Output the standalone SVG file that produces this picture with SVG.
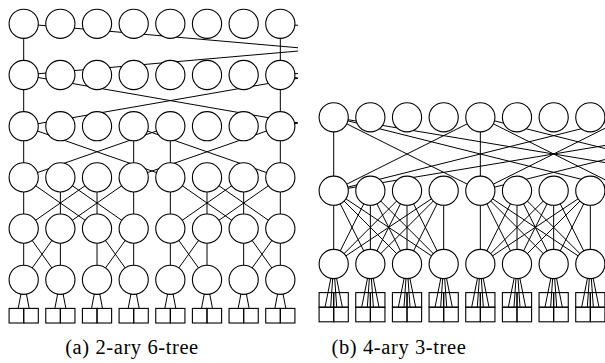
<svg xmlns="http://www.w3.org/2000/svg" width="605" height="363" viewBox="0 0 605 363">
  <style>
    .sw { fill: #fff; stroke: #000; stroke-width: 1.1; }
    .pe { fill: none; stroke: #000; stroke-width: 1.1; }
    .wire { fill: none; stroke: #000; stroke-width: 1; }
    .cap { font-family: "Liberation Serif", "Times New Roman", serif; font-size: 20.5px; letter-spacing: 0.6px; fill: #000; text-anchor: middle; }
  </style>
  <defs>
    <clipPath id="clipA"><rect x="0" y="0" width="298" height="363"/></clipPath>
    <clipPath id="clipB"><rect x="305" y="0" width="300" height="363"/></clipPath>
  </defs>

  <!-- links: drawn first, switches cover them -->
  <g id="connectors">
    <g id="a-links" clip-path="url(#clipA)" class="wire">
      <!-- level 1 - level 2 -->
      <path d="M23.7 23.8V75 M280.32 23.8V75 M23.7 23.8L610.26 75 M23.7 75L610.26 23.8 M280.32 23.8L866.88 75 M280.32 75L866.88 23.8"/>
      <!-- level 2 - level 3 -->
      <path d="M23.7 75V126.2 M280.32 75V126.2 M23.7 75L316.98 126.2 M23.7 126.2L316.98 75 M280.32 75L573.6 126.2 M280.32 126.2L573.6 75"/>
      <!-- level 3 - level 4 -->
      <path d="M23.7 126.2V177.4 M133.68 126.2V177.4 M170.34 126.2V177.4 M280.32 126.2V177.4 M23.7 126.2L170.34 177.4 M170.34 126.2L23.7 177.4 M133.68 126.2L280.32 177.4 M280.32 126.2L133.68 177.4"/>
      <!-- level 4 - level 5 -->
      <path d="M23.7 177.4V228.6 M60.36 177.4V228.6 M97.02 177.4V228.6 M133.68 177.4V228.6 M170.34 177.4V228.6 M207 177.4V228.6 M243.66 177.4V228.6 M280.32 177.4V228.6
               M23.7 177.4L97.02 228.6 M97.02 177.4L23.7 228.6 M60.36 177.4L133.68 228.6 M133.68 177.4L60.36 228.6
               M170.34 177.4L243.66 228.6 M243.66 177.4L170.34 228.6 M207 177.4L280.32 228.6 M280.32 177.4L207 228.6"/>
      <!-- level 5 - level 6 -->
      <path d="M23.7 228.6V279.8 M60.36 228.6V279.8 M97.02 228.6V279.8 M133.68 228.6V279.8 M170.34 228.6V279.8 M207 228.6V279.8 M243.66 228.6V279.8 M280.32 228.6V279.8
               M23.7 228.6L60.36 279.8 M60.36 228.6L23.7 279.8 M97.02 228.6L133.68 279.8 M133.68 228.6L97.02 279.8
               M170.34 228.6L207 279.8 M207 228.6L170.34 279.8 M243.66 228.6L280.32 279.8 M280.32 228.6L243.66 279.8"/>
      <!-- level 6 - processing nodes -->
      <path d="M23.7 279.8L18.2 308.4 M23.7 279.8L29.2 308.4 M60.36 279.8L54.86 308.4 M60.36 279.8L65.86 308.4
               M97.02 279.8L91.52 308.4 M97.02 279.8L102.52 308.4 M133.68 279.8L128.18 308.4 M133.68 279.8L139.18 308.4
               M170.34 279.8L164.84 308.4 M170.34 279.8L175.84 308.4 M207 279.8L201.5 308.4 M207 279.8L212.5 308.4
               M243.66 279.8L238.16 308.4 M243.66 279.8L249.16 308.4 M280.32 279.8L274.82 308.4 M280.32 279.8L285.82 308.4"/>
    </g>
    <g id="b-links" clip-path="url(#clipB)" class="wire">
      <!-- level 1 - level 2 -->
      <path d="M333.7 117.3V190.7 M480.34 117.3V190.7
               M333.7 117.3L480.34 190.7 M333.7 117.3L626.98 190.7 M333.7 117.3L773.62 190.7
               M480.34 117.3L333.7 190.7 M480.34 117.3L626.98 190.7 M480.34 117.3L773.62 190.7
               M333.7 190.7L626.98 117.3 M333.7 190.7L773.62 117.3
               M480.34 190.7L626.98 117.3 M480.34 190.7L773.62 117.3"/>
      <!-- level 2 - level 3, first group -->
      <path d="M333.7 190.7L333.7 264 M333.7 190.7L370.36 264 M333.7 190.7L407.02 264 M333.7 190.7L443.68 264
               M370.36 190.7L333.7 264 M370.36 190.7L370.36 264 M370.36 190.7L407.02 264 M370.36 190.7L443.68 264
               M407.02 190.7L333.7 264 M407.02 190.7L370.36 264 M407.02 190.7L407.02 264 M407.02 190.7L443.68 264
               M443.68 190.7L333.7 264 M443.68 190.7L370.36 264 M443.68 190.7L407.02 264 M443.68 190.7L443.68 264"/>
      <!-- level 2 - level 3, second group -->
      <path d="M480.34 190.7L480.34 264 M480.34 190.7L517 264 M480.34 190.7L553.66 264 M480.34 190.7L590.32 264
               M517 190.7L480.34 264 M517 190.7L517 264 M517 190.7L553.66 264 M517 190.7L590.32 264
               M553.66 190.7L480.34 264 M553.66 190.7L517 264 M553.66 190.7L553.66 264 M553.66 190.7L590.32 264
               M590.32 190.7L480.34 264 M590.32 190.7L517 264 M590.32 190.7L553.66 264 M590.32 190.7L590.32 264"/>
      <!-- level 3 - processing nodes -->
      <path d="M333.7 264L325.1 306.9 M333.7 264L330.7 306.9 M333.7 264L336.7 306.9 M333.7 264L342.3 306.9
               M370.36 264L361.76 306.9 M370.36 264L367.36 306.9 M370.36 264L373.36 306.9 M370.36 264L378.96 306.9
               M407.02 264L398.42 306.9 M407.02 264L404.02 306.9 M407.02 264L410.02 306.9 M407.02 264L415.62 306.9
               M443.68 264L435.08 306.9 M443.68 264L440.68 306.9 M443.68 264L446.68 306.9 M443.68 264L452.28 306.9
               M480.34 264L471.74 306.9 M480.34 264L477.34 306.9 M480.34 264L483.34 306.9 M480.34 264L488.94 306.9
               M517 264L508.4 306.9 M517 264L514 306.9 M517 264L520 306.9 M517 264L525.6 306.9
               M553.66 264L545.06 306.9 M553.66 264L550.66 306.9 M553.66 264L556.66 306.9 M553.66 264L562.26 306.9
               M590.32 264L581.72 306.9 M590.32 264L587.32 306.9 M590.32 264L593.32 306.9 M590.32 264L598.92 306.9"/>
    </g>
  </g>

  <!-- (a) switches, level 1 (top) to level 6 -->
  <g id="a-switches">
    <g id="a-s1-0"><circle class="sw" cx="23.7" cy="23.8" r="14.6"/></g>
    <g id="a-s1-1"><circle class="sw" cx="60.36" cy="23.8" r="14.6"/></g>
    <g id="a-s1-2"><circle class="sw" cx="97.02" cy="23.8" r="14.6"/></g>
    <g id="a-s1-3"><circle class="sw" cx="133.68" cy="23.8" r="14.6"/></g>
    <g id="a-s1-4"><circle class="sw" cx="170.34" cy="23.8" r="14.6"/></g>
    <g id="a-s1-5"><circle class="sw" cx="207" cy="23.8" r="14.6"/></g>
    <g id="a-s1-6"><circle class="sw" cx="243.66" cy="23.8" r="14.6"/></g>
    <g id="a-s1-7"><circle class="sw" cx="280.32" cy="23.8" r="14.6"/></g>

    <g id="a-s2-0"><circle class="sw" cx="23.7" cy="75" r="14.6"/></g>
    <g id="a-s2-1"><circle class="sw" cx="60.36" cy="75" r="14.6"/></g>
    <g id="a-s2-2"><circle class="sw" cx="97.02" cy="75" r="14.6"/></g>
    <g id="a-s2-3"><circle class="sw" cx="133.68" cy="75" r="14.6"/></g>
    <g id="a-s2-4"><circle class="sw" cx="170.34" cy="75" r="14.6"/></g>
    <g id="a-s2-5"><circle class="sw" cx="207" cy="75" r="14.6"/></g>
    <g id="a-s2-6"><circle class="sw" cx="243.66" cy="75" r="14.6"/></g>
    <g id="a-s2-7"><circle class="sw" cx="280.32" cy="75" r="14.6"/></g>

    <g id="a-s3-0"><circle class="sw" cx="23.7" cy="126.2" r="14.6"/></g>
    <g id="a-s3-1"><circle class="sw" cx="60.36" cy="126.2" r="14.6"/></g>
    <g id="a-s3-2"><circle class="sw" cx="97.02" cy="126.2" r="14.6"/></g>
    <g id="a-s3-3"><circle class="sw" cx="133.68" cy="126.2" r="14.6"/></g>
    <g id="a-s3-4"><circle class="sw" cx="170.34" cy="126.2" r="14.6"/></g>
    <g id="a-s3-5"><circle class="sw" cx="207" cy="126.2" r="14.6"/></g>
    <g id="a-s3-6"><circle class="sw" cx="243.66" cy="126.2" r="14.6"/></g>
    <g id="a-s3-7"><circle class="sw" cx="280.32" cy="126.2" r="14.6"/></g>

    <g id="a-s4-0"><circle class="sw" cx="23.7" cy="177.4" r="14.6"/></g>
    <g id="a-s4-1"><circle class="sw" cx="60.36" cy="177.4" r="14.6"/></g>
    <g id="a-s4-2"><circle class="sw" cx="97.02" cy="177.4" r="14.6"/></g>
    <g id="a-s4-3"><circle class="sw" cx="133.68" cy="177.4" r="14.6"/></g>
    <g id="a-s4-4"><circle class="sw" cx="170.34" cy="177.4" r="14.6"/></g>
    <g id="a-s4-5"><circle class="sw" cx="207" cy="177.4" r="14.6"/></g>
    <g id="a-s4-6"><circle class="sw" cx="243.66" cy="177.4" r="14.6"/></g>
    <g id="a-s4-7"><circle class="sw" cx="280.32" cy="177.4" r="14.6"/></g>

    <g id="a-s5-0"><circle class="sw" cx="23.7" cy="228.6" r="14.6"/></g>
    <g id="a-s5-1"><circle class="sw" cx="60.36" cy="228.6" r="14.6"/></g>
    <g id="a-s5-2"><circle class="sw" cx="97.02" cy="228.6" r="14.6"/></g>
    <g id="a-s5-3"><circle class="sw" cx="133.68" cy="228.6" r="14.6"/></g>
    <g id="a-s5-4"><circle class="sw" cx="170.34" cy="228.6" r="14.6"/></g>
    <g id="a-s5-5"><circle class="sw" cx="207" cy="228.6" r="14.6"/></g>
    <g id="a-s5-6"><circle class="sw" cx="243.66" cy="228.6" r="14.6"/></g>
    <g id="a-s5-7"><circle class="sw" cx="280.32" cy="228.6" r="14.6"/></g>

    <g id="a-s6-0"><circle class="sw" cx="23.7" cy="279.8" r="14.6"/></g>
    <g id="a-s6-1"><circle class="sw" cx="60.36" cy="279.8" r="14.6"/></g>
    <g id="a-s6-2"><circle class="sw" cx="97.02" cy="279.8" r="14.6"/></g>
    <g id="a-s6-3"><circle class="sw" cx="133.68" cy="279.8" r="14.6"/></g>
    <g id="a-s6-4"><circle class="sw" cx="170.34" cy="279.8" r="14.6"/></g>
    <g id="a-s6-5"><circle class="sw" cx="207" cy="279.8" r="14.6"/></g>
    <g id="a-s6-6"><circle class="sw" cx="243.66" cy="279.8" r="14.6"/></g>
    <g id="a-s6-7"><circle class="sw" cx="280.32" cy="279.8" r="14.6"/></g>
  </g>

  <!-- (a) processing nodes, two per leaf switch -->
  <g id="a-nodes">
    <g id="a-p0-0"><rect class="pe" x="9.1" y="308.4" width="14.6" height="14.6"/></g>
    <g id="a-p0-1"><rect class="pe" x="23.7" y="308.4" width="14.6" height="14.6"/></g>
    <g id="a-p1-0"><rect class="pe" x="45.76" y="308.4" width="14.6" height="14.6"/></g>
    <g id="a-p1-1"><rect class="pe" x="60.36" y="308.4" width="14.6" height="14.6"/></g>
    <g id="a-p2-0"><rect class="pe" x="82.42" y="308.4" width="14.6" height="14.6"/></g>
    <g id="a-p2-1"><rect class="pe" x="97.02" y="308.4" width="14.6" height="14.6"/></g>
    <g id="a-p3-0"><rect class="pe" x="119.08" y="308.4" width="14.6" height="14.6"/></g>
    <g id="a-p3-1"><rect class="pe" x="133.68" y="308.4" width="14.6" height="14.6"/></g>
    <g id="a-p4-0"><rect class="pe" x="155.74" y="308.4" width="14.6" height="14.6"/></g>
    <g id="a-p4-1"><rect class="pe" x="170.34" y="308.4" width="14.6" height="14.6"/></g>
    <g id="a-p5-0"><rect class="pe" x="192.4" y="308.4" width="14.6" height="14.6"/></g>
    <g id="a-p5-1"><rect class="pe" x="207" y="308.4" width="14.6" height="14.6"/></g>
    <g id="a-p6-0"><rect class="pe" x="229.06" y="308.4" width="14.6" height="14.6"/></g>
    <g id="a-p6-1"><rect class="pe" x="243.66" y="308.4" width="14.6" height="14.6"/></g>
    <g id="a-p7-0"><rect class="pe" x="265.72" y="308.4" width="14.6" height="14.6"/></g>
    <g id="a-p7-1"><rect class="pe" x="280.32" y="308.4" width="14.6" height="14.6"/></g>
  </g>

  <!-- (b) switches, level 1 (top) to level 3 -->
  <g id="b-switches">
    <g id="b-s1-0"><circle class="sw" cx="333.7" cy="117.3" r="14.6"/></g>
    <g id="b-s1-1"><circle class="sw" cx="370.36" cy="117.3" r="14.6"/></g>
    <g id="b-s1-2"><circle class="sw" cx="407.02" cy="117.3" r="14.6"/></g>
    <g id="b-s1-3"><circle class="sw" cx="443.68" cy="117.3" r="14.6"/></g>
    <g id="b-s1-4"><circle class="sw" cx="480.34" cy="117.3" r="14.6"/></g>
    <g id="b-s1-5"><circle class="sw" cx="517" cy="117.3" r="14.6"/></g>
    <g id="b-s1-6"><circle class="sw" cx="553.66" cy="117.3" r="14.6"/></g>
    <g id="b-s1-7"><circle class="sw" cx="590.32" cy="117.3" r="14.6"/></g>

    <g id="b-s2-0"><circle class="sw" cx="333.7" cy="190.7" r="14.6"/></g>
    <g id="b-s2-1"><circle class="sw" cx="370.36" cy="190.7" r="14.6"/></g>
    <g id="b-s2-2"><circle class="sw" cx="407.02" cy="190.7" r="14.6"/></g>
    <g id="b-s2-3"><circle class="sw" cx="443.68" cy="190.7" r="14.6"/></g>
    <g id="b-s2-4"><circle class="sw" cx="480.34" cy="190.7" r="14.6"/></g>
    <g id="b-s2-5"><circle class="sw" cx="517" cy="190.7" r="14.6"/></g>
    <g id="b-s2-6"><circle class="sw" cx="553.66" cy="190.7" r="14.6"/></g>
    <g id="b-s2-7"><circle class="sw" cx="590.32" cy="190.7" r="14.6"/></g>

    <g id="b-s3-0"><circle class="sw" cx="333.7" cy="264" r="14.6"/></g>
    <g id="b-s3-1"><circle class="sw" cx="370.36" cy="264" r="14.6"/></g>
    <g id="b-s3-2"><circle class="sw" cx="407.02" cy="264" r="14.6"/></g>
    <g id="b-s3-3"><circle class="sw" cx="443.68" cy="264" r="14.6"/></g>
    <g id="b-s3-4"><circle class="sw" cx="480.34" cy="264" r="14.6"/></g>
    <g id="b-s3-5"><circle class="sw" cx="517" cy="264" r="14.6"/></g>
    <g id="b-s3-6"><circle class="sw" cx="553.66" cy="264" r="14.6"/></g>
    <g id="b-s3-7"><circle class="sw" cx="590.32" cy="264" r="14.6"/></g>
  </g>

  <!-- (b) processing nodes, a 2x2 block per leaf switch -->
  <g id="b-nodes">
    <g id="b-p0-0"><rect class="pe" x="319.1" y="292.6" width="14.6" height="14.6"/></g>
    <g id="b-p0-1"><rect class="pe" x="333.7" y="292.6" width="14.6" height="14.6"/></g>
    <g id="b-p0-2"><rect class="pe" x="319.1" y="307.2" width="14.6" height="14.6"/></g>
    <g id="b-p0-3"><rect class="pe" x="333.7" y="307.2" width="14.6" height="14.6"/></g>
    <g id="b-p1-0"><rect class="pe" x="355.76" y="292.6" width="14.6" height="14.6"/></g>
    <g id="b-p1-1"><rect class="pe" x="370.36" y="292.6" width="14.6" height="14.6"/></g>
    <g id="b-p1-2"><rect class="pe" x="355.76" y="307.2" width="14.6" height="14.6"/></g>
    <g id="b-p1-3"><rect class="pe" x="370.36" y="307.2" width="14.6" height="14.6"/></g>
    <g id="b-p2-0"><rect class="pe" x="392.42" y="292.6" width="14.6" height="14.6"/></g>
    <g id="b-p2-1"><rect class="pe" x="407.02" y="292.6" width="14.6" height="14.6"/></g>
    <g id="b-p2-2"><rect class="pe" x="392.42" y="307.2" width="14.6" height="14.6"/></g>
    <g id="b-p2-3"><rect class="pe" x="407.02" y="307.2" width="14.6" height="14.6"/></g>
    <g id="b-p3-0"><rect class="pe" x="429.08" y="292.6" width="14.6" height="14.6"/></g>
    <g id="b-p3-1"><rect class="pe" x="443.68" y="292.6" width="14.6" height="14.6"/></g>
    <g id="b-p3-2"><rect class="pe" x="429.08" y="307.2" width="14.6" height="14.6"/></g>
    <g id="b-p3-3"><rect class="pe" x="443.68" y="307.2" width="14.6" height="14.6"/></g>
    <g id="b-p4-0"><rect class="pe" x="465.74" y="292.6" width="14.6" height="14.6"/></g>
    <g id="b-p4-1"><rect class="pe" x="480.34" y="292.6" width="14.6" height="14.6"/></g>
    <g id="b-p4-2"><rect class="pe" x="465.74" y="307.2" width="14.6" height="14.6"/></g>
    <g id="b-p4-3"><rect class="pe" x="480.34" y="307.2" width="14.6" height="14.6"/></g>
    <g id="b-p5-0"><rect class="pe" x="502.4" y="292.6" width="14.6" height="14.6"/></g>
    <g id="b-p5-1"><rect class="pe" x="517" y="292.6" width="14.6" height="14.6"/></g>
    <g id="b-p5-2"><rect class="pe" x="502.4" y="307.2" width="14.6" height="14.6"/></g>
    <g id="b-p5-3"><rect class="pe" x="517" y="307.2" width="14.6" height="14.6"/></g>
    <g id="b-p6-0"><rect class="pe" x="539.06" y="292.6" width="14.6" height="14.6"/></g>
    <g id="b-p6-1"><rect class="pe" x="553.66" y="292.6" width="14.6" height="14.6"/></g>
    <g id="b-p6-2"><rect class="pe" x="539.06" y="307.2" width="14.6" height="14.6"/></g>
    <g id="b-p6-3"><rect class="pe" x="553.66" y="307.2" width="14.6" height="14.6"/></g>
    <g id="b-p7-0"><rect class="pe" x="575.72" y="292.6" width="14.6" height="14.6"/></g>
    <g id="b-p7-1"><rect class="pe" x="590.32" y="292.6" width="14.6" height="14.6"/></g>
    <g id="b-p7-2"><rect class="pe" x="575.72" y="307.2" width="14.6" height="14.6"/></g>
    <g id="b-p7-3"><rect class="pe" x="590.32" y="307.2" width="14.6" height="14.6"/></g>
  </g>

  <!-- sub-figure captions -->
  <g id="captions">
    <text class="cap" x="132" y="353.5">(a) 2-ary 6-tree</text>
    <text class="cap" x="399" y="353.5">(b) 4-ary 3-tree</text>
  </g>
</svg>
